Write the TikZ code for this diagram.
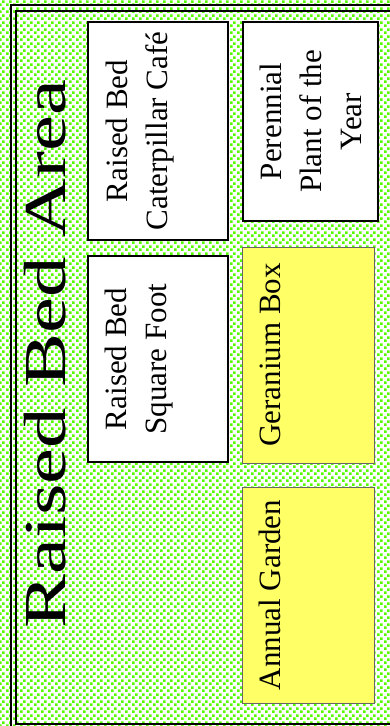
\documentclass[tikz,border=0pt]{standalone}
\usepackage{fontspec}
\setmainfont{Liberation Serif}
\usetikzlibrary{patterns}
\definecolor{cLime}{HTML}{55FA00}
\definecolor{cSun}{HTML}{FFFF66}
\definecolor{cEdge}{HTML}{666666}

% square green dots for the lawn
\pgfdeclarepatternformonly{garden dots}{\pgfpointorigin}{\pgfqpoint{7pt}{7pt}}%
  {\pgfqpoint{7pt}{7pt}}{%
  \pgfpathrectangle{\pgfqpoint{0pt}{0pt}}{\pgfqpoint{3pt}{3pt}}%
  \pgfpathrectangle{\pgfqpoint{3.5pt}{3.5pt}}{\pgfqpoint{3pt}{3pt}}%
  \pgfusepath{fill}}

\begin{document}
\begin{tikzpicture}[
  x=1pt, y=-1pt,
  bedbox/.style={rectangle, draw=black, line width=2.5pt, fill=white,
                 inner sep=0pt},
  sunbox/.style={rectangle, draw=cEdge, line width=1pt, fill=cSun,
                 inner sep=0pt},
  bedtext/.style={rotate=90, anchor=north, inner sep=0pt, align=center,
                  font=\fontsize{31}{40}\selectfont},
  frameline/.style={line width=2pt},
]

\useasboundingbox (0,0) rectangle (390,726);
\clip (0,0) rectangle (390,726);

\fill[white] (0,0) rectangle (390,726);
\fill[pattern=garden dots, pattern color=cLime] (0,0) rectangle (390,726);

\draw[frameline] (11,740) -- (11,5) -- (400,5);
\draw[frameline] (400,11) -- (16,11) -- (16,724) -- (400,724);

\node[rotate=90, anchor=base, inner sep=0pt,
      font=\fontsize{59.5}{60}\selectfont] (title) at (65,354)
  {\scalebox{1.36}[1]{Raised Bed Area}};

\node[bedbox, minimum width=140pt, minimum height=218pt] (cafe) at (158,131) {};
\node[bedbox, minimum width=135pt, minimum height=199pt] (perennial) at (310.5,121.5) {};
\node[bedbox, minimum width=140pt, minimum height=206pt] (square) at (158,359) {};
\node[sunbox, minimum width=132pt, minimum height=216pt] (geranium) at (308,355) {};
\node[sunbox, minimum width=132pt, minimum height=216pt] (annual) at (308,595) {};

\node[bedtext] (cafeText) at ([xshift=19pt]cafe.west)
  {Raised Bed\\Caterpillar Café};
\node[bedtext] (perennialText) at ([xshift=18pt]perennial.west)
  {Perennial\\Plant of the\\Year};
\node[bedtext] (squareText) at ([xshift=18.5pt]square.west)
  {Raised Bed\\Square Foot};
\node[bedtext] (geraniumText) at ([xshift=18.5pt]geranium.west)
  {Geranium Box};
\node[bedtext] (annualText) at ([xshift=17.5pt]annual.west)
  {Annual Garden};

\end{tikzpicture}
\end{document}
